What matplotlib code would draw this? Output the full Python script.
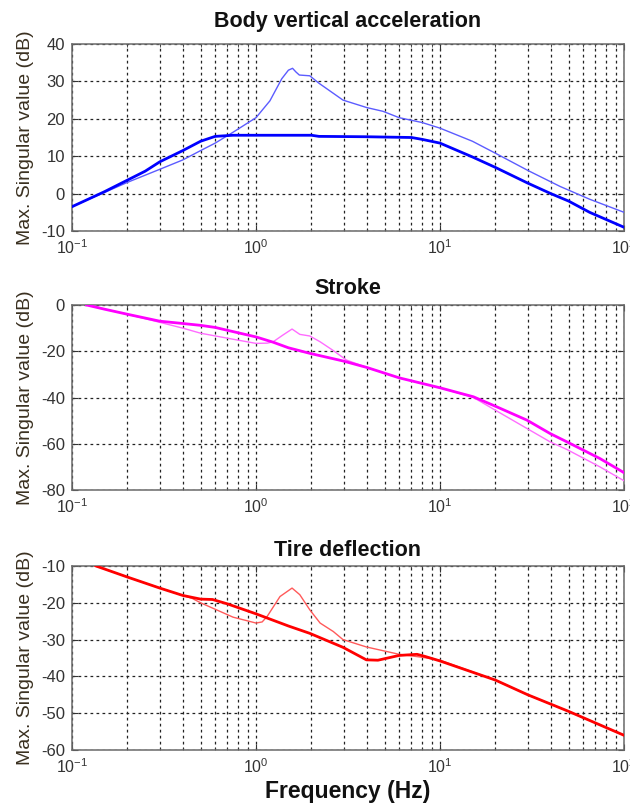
import matplotlib
matplotlib.use("Agg")
import matplotlib.pyplot as plt
from matplotlib.ticker import LogLocator, NullFormatter, FixedLocator
import numpy as np

plt.rcParams['font.family'] = ['Liberation Sans', 'DejaVu Sans']
plt.rcParams['mathtext.fontset'] = 'custom'
plt.rcParams['mathtext.rm'] = 'Liberation Sans'
plt.rcParams['mathtext.it'] = 'Liberation Sans:italic'
plt.rcParams['mathtext.bf'] = 'Liberation Sans:bold'

# ---------------- data ----------------
titles = ["Body vertical acceleration", "Stroke", "Tire deflection"]
ylabel = "Max. Singular value (dB)"
xlabel = "Frequency (Hz)"
xtick_labels = [r"$10^{-1}$", r"$10^{0}$", r"$10^{1}$", r"$10^{2}$"]

# Body vertical acceleration
body_f_thick = [0.1, 0.15, 0.2, 0.25, 0.3, 0.4, 0.5, 0.6, 0.75, 1.0, 2.0, 2.2, 4.0, 7.0, 8.0,
                10, 15, 20, 30, 40, 50, 65, 100]
body_thick = [-3.5, 0.5, 3.6, 6.0, 8.5, 11.5, 14.0, 15.3, 15.6, 15.6, 15.6, 15.3, 15.2, 15.0, 14.5,
              13.5, 9.8, 7.0, 2.8, 0.0, -2.0, -5.0, -9.0]
body_f_thin = [0.1, 0.13, 0.15, 0.2, 0.3, 0.4, 0.5, 0.6, 0.75, 1.0, 1.19, 1.38, 1.5, 1.58, 1.65,
               1.72, 1.96, 2.2, 2.97, 4.0, 4.9, 6.0, 8.0, 10, 15, 20, 30, 45, 65, 100]
body_thin = [-3.5, -1.0, 0.3, 3.0, 6.5, 9.0, 11.5, 13.5, 16.4, 20.3, 24.8, 30.7, 33.0, 33.5, 32.5,
             31.7, 31.5, 29.5, 25.0, 23.0, 22.0, 20.3, 19.0, 17.5, 14.0, 10.8, 6.2, 1.9, -1.5, -5.0]

# Stroke
stroke_f_thick = [0.12, 0.15, 0.2, 0.3, 0.4, 0.5, 0.6, 0.75, 1.0, 1.24, 1.5, 1.96, 2.97, 4.0, 6.0,
                  10, 15.2, 20.3, 29.7, 39.7, 49, 74, 100]
stroke_thick = [0.0, -1.8, -4.0, -7.0, -8.0, -8.8, -9.7, -11.5, -13.8, -16.1, -18.5, -20.9, -24.2,
                -27.0, -31.5, -35.8, -39.7, -44.0, -49.8, -55.6, -59.2, -66.4, -72.5]
stroke_f_thin = [0.12, 0.2, 0.3, 0.4, 0.5, 0.75, 1.0, 1.15, 1.24, 1.4, 1.57, 1.73, 1.96, 2.23, 2.63,
                 3.1, 4.0, 6.0, 10, 15.2, 20.3, 29.7, 39.7, 49, 74, 100]
stroke_thin = [0.0, -4.0, -7.5, -10.0, -12.2, -14.8, -16.6, -16.5, -15.9, -13.0, -10.4, -12.7, -13.4,
               -15.9, -19.7, -23.8, -27.0, -31.5, -35.8, -40.0, -45.8, -53.4, -59.2, -62.5, -70.0, -76.0]

# Tire deflection
tire_f_thick = [0.135, 0.2, 0.3, 0.4, 0.5, 0.58, 0.7, 1.0, 1.5, 1.96, 2.97, 3.98, 4.6, 5.2, 6.0, 7.5,
                8.2, 10, 20, 30, 50, 100]
tire_thick = [-10.0, -13.0, -16.0, -18.0, -19.0, -19.1, -20.3, -23.0, -26.3, -28.3, -32.1, -35.5,
              -35.6, -35.0, -34.3, -34.0, -34.5, -35.8, -41.0, -45.0, -49.5, -56.0]
tire_f_thin = [0.135, 0.2, 0.3, 0.4, 0.45, 0.5, 0.75, 1.0, 1.08, 1.15, 1.35, 1.57, 1.73, 1.96, 2.23,
               2.63, 2.97, 3.98, 6.0, 8.0, 10, 20, 30, 50, 100]
tire_thin = [-10.0, -13.0, -16.0, -18.0, -18.8, -20.0, -23.9, -25.5, -25.2, -23.7, -18.3, -16.0,
             -17.8, -21.9, -25.5, -27.8, -30.0, -32.0, -34.0, -34.8, -35.6, -41.0, -45.0, -49.5, -56.0]

ylims = [(-10, 40), (-80, 0), (-60, -10)]
yticks = [[-10, 0, 10, 20, 30, 40], [-80, -60, -40, -20, 0], [-60, -50, -40, -30, -20, -10]]

series = [
    (body_f_thin, body_thin, body_f_thick, body_thick, '#5c5cff', '#0000ff'),
    (stroke_f_thin, stroke_thin, stroke_f_thick, stroke_thick, '#ff6cff', '#ff00ff'),
    (tire_f_thin, tire_thin, tire_f_thick, tire_thick, '#ff5a5a', '#ff0000'),
]

# ---------------- figure ----------------
W, H = 630, 805
fig = plt.figure(figsize=(W / 100, H / 100), dpi=100)
left, width = 72 / W, 552 / W
tops = [44, 305, 566]
bottoms = [231, 490, 750]
title_y = [21, 289, 550]

grid_kw = dict(color='#222222', linestyle=(0, (2.2, 2.6)), linewidth=0.9)

for i in range(3):
    ax = fig.add_axes([left, 1 - bottoms[i] / H, width, (bottoms[i] - tops[i]) / H])
    fthin, ythin, fthick, ythick, cthin, cthick = series[i]
    ax.plot(fthin, ythin, color=cthin, lw=1.0, zorder=3)
    ax.plot(fthick, ythick, color=cthick, lw=2.0, zorder=4)
    ax.set_xscale('log')
    ax.set_xlim(0.1, 100)
    ax.set_ylim(*ylims[i])
    ax.xaxis.set_major_locator(FixedLocator([0.1, 1, 10, 100]))
    ax.set_xticklabels(xtick_labels)
    ax.xaxis.set_minor_locator(LogLocator(base=10, subs=np.arange(2, 10)))
    ax.xaxis.set_minor_formatter(NullFormatter())
    ax.set_yticks(yticks[i])
    ax.set_yticklabels([str(v) for v in yticks[i]])
    ax.grid(True, which='major', axis='both', **grid_kw)
    ax.grid(True, which='minor', axis='x', **grid_kw)
    for s in ax.spines.values():
        s.set_color('#6a6a6a')
        s.set_linewidth(1.1)
    ax.tick_params(axis='both', which='both', direction='in', top=True, right=True,
                   colors='#333333', labelcolor='#333333')
    ax.tick_params(axis='y', which='major', length=4, pad=5, labelsize=12)
    ax.tick_params(axis='x', which='major', length=4, pad=5, labelsize=11.5)
    ax.tick_params(axis='x', which='minor', length=2)
    ax.set_ylabel(ylabel, fontsize=14, color='#3a3020')
    ax.yaxis.set_label_coords(-(72 - 34) / 552, 0.5)
    fig.text(348 / W, 1 - title_y[i] / H, titles[i], ha='center', va='center',
             fontsize=15.5, fontweight='bold', color='#111111')

fig.text(348 / W, 1 - 791 / H, xlabel, ha='center', va='center', fontsize=16.5,
         fontweight='bold', color='#111111')

fig.savefig('out.png', dpi=100)
